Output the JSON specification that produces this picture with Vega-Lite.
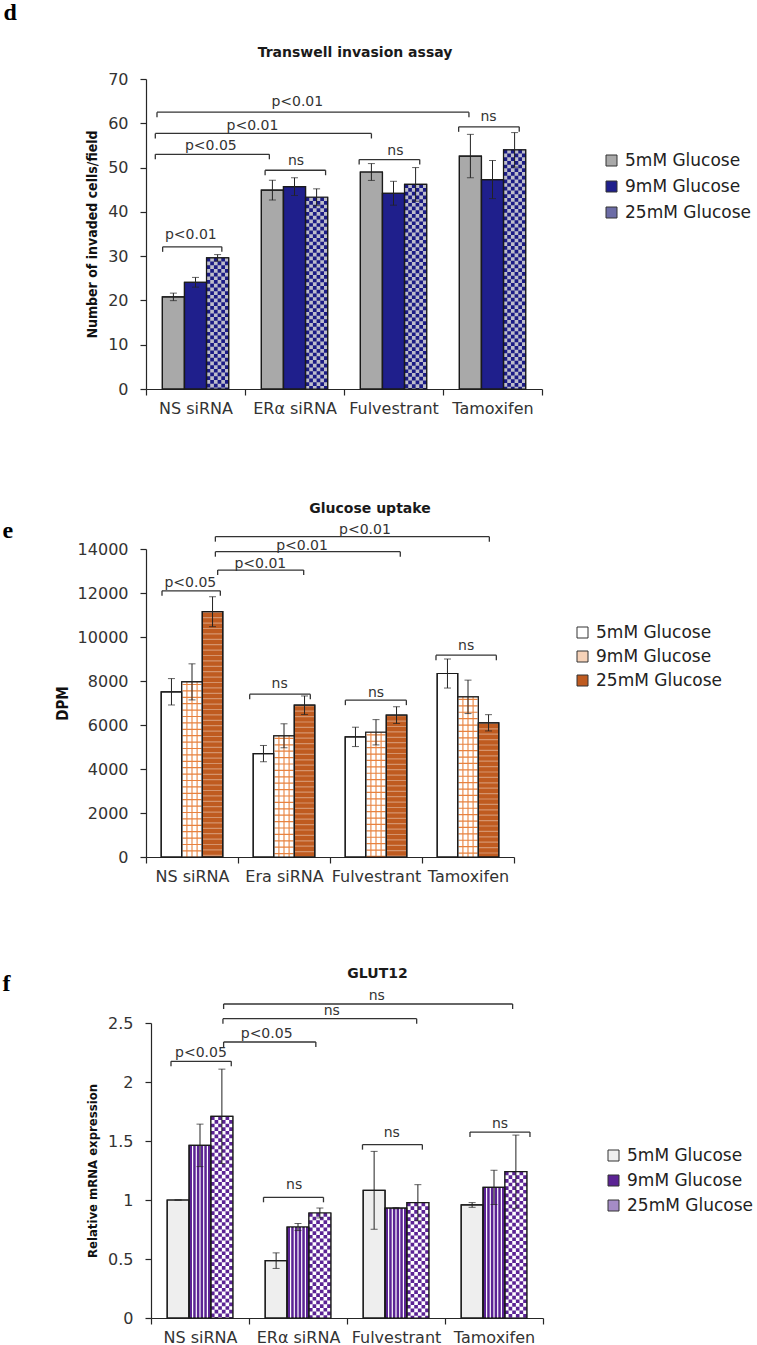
{
  "$schema": "https://vega.github.io/schema/vega-lite/v6.json",
  "padding": {"left": 2, "top": 0, "right": 0, "bottom": 0},
  "autosize": {"type": "pad"},
  "bounds": "flush",
  "spacing": 160,
  "config": {
    "view": {"stroke": null},
    "axis": {"domainColor": "#262626", "domainWidth": 1.2, "tickColor": "#262626", "tickWidth": 1.2, "tickSize": 6, "labelFont": "DejaVu Sans", "labelFontSize": 16, "labelColor": "#333333", "grid": false, "titleFont": "Liberation Sans Narrow, DejaVu Sans Condensed, Liberation Sans", "titleFontWeight": "bold", "titleColor": "#111111", "titleFontSize": 16},
    "axisY": {"labelPadding": 12, "titlePadding": 8},
    "axisX": {"labelAngle": 0, "labelPadding": 5, "tickBand": "extent"},
    "title": {"font": "DejaVu Sans", "fontSize": 14, "fontWeight": "bold", "color": "#1a1a1a", "anchor": "middle", "frame": "group"}
  },
  "datasets": {
    "d": [
      {"cat": "NS siRNA", "glucose": "5mM Glucose", "value": 20.8, "err": 0.85},
      {"cat": "NS siRNA", "glucose": "9mM Glucose", "value": 24.1, "err": 1.1},
      {"cat": "NS siRNA", "glucose": "25mM Glucose", "value": 29.6, "err": 0.75},
      {"cat": "ERα siRNA", "glucose": "5mM Glucose", "value": 44.9, "err": 2.25},
      {"cat": "ERα siRNA", "glucose": "9mM Glucose", "value": 45.7, "err": 2.0},
      {"cat": "ERα siRNA", "glucose": "25mM Glucose", "value": 43.3, "err": 1.9},
      {"cat": "Fulvestrant", "glucose": "5mM Glucose", "value": 49.0, "err": 1.9},
      {"cat": "Fulvestrant", "glucose": "9mM Glucose", "value": 44.2, "err": 2.7},
      {"cat": "Fulvestrant", "glucose": "25mM Glucose", "value": 46.2, "err": 3.8},
      {"cat": "Tamoxifen", "glucose": "5mM Glucose", "value": 52.6, "err": 4.9},
      {"cat": "Tamoxifen", "glucose": "9mM Glucose", "value": 47.3, "err": 4.3},
      {"cat": "Tamoxifen", "glucose": "25mM Glucose", "value": 54.0, "err": 3.9}
    ],
    "bd": [
      {"x1": 0.168, "x2": 0.766, "y": 32.1, "lx": 0.453, "ly": 34.7, "label": "p<0.01"},
      {"x1": 0.094, "x2": 1.246, "y": 53.0, "lx": 0.655, "ly": 54.9, "label": "p<0.05"},
      {"x1": 0.094, "x2": 2.277, "y": 57.7, "lx": 1.075, "ly": 59.4, "label": "p<0.01"},
      {"x1": 0.111, "x2": 3.262, "y": 62.5, "lx": 1.528, "ly": 64.9, "label": "p<0.01"},
      {"x1": 1.203, "x2": 1.814, "y": 49.4, "lx": 1.515, "ly": 51.5, "label": "ns"},
      {"x1": 2.153, "x2": 2.765, "y": 51.8, "lx": 2.519, "ly": 53.8, "label": "ns"},
      {"x1": 3.158, "x2": 3.77, "y": 59.2, "lx": 3.46, "ly": 61.5, "label": "ns"}
    ],
    "e": [
      {"cat": "NS siRNA", "glucose": "5mM Glucose", "value": 7510, "err": 600},
      {"cat": "NS siRNA", "glucose": "9mM Glucose", "value": 7960, "err": 820},
      {"cat": "NS siRNA", "glucose": "25mM Glucose", "value": 11150, "err": 680},
      {"cat": "Era siRNA", "glucose": "5mM Glucose", "value": 4700, "err": 370},
      {"cat": "Era siRNA", "glucose": "9mM Glucose", "value": 5510, "err": 545},
      {"cat": "Era siRNA", "glucose": "25mM Glucose", "value": 6900, "err": 420},
      {"cat": "Fulvestrant", "glucose": "5mM Glucose", "value": 5460, "err": 440},
      {"cat": "Fulvestrant", "glucose": "9mM Glucose", "value": 5670, "err": 575},
      {"cat": "Fulvestrant", "glucose": "25mM Glucose", "value": 6450, "err": 380},
      {"cat": "Tamoxifen", "glucose": "5mM Glucose", "value": 8340, "err": 660},
      {"cat": "Tamoxifen", "glucose": "9mM Glucose", "value": 7280, "err": 760},
      {"cat": "Tamoxifen", "glucose": "25mM Glucose", "value": 6100, "err": 370}
    ],
    "be": [
      {"x1": 0.174, "x2": 0.808, "y": 12100, "lx": 0.482, "ly": 12440, "label": "p<0.05"},
      {"x1": 0.779, "x2": 1.714, "y": 13044, "lx": 1.243, "ly": 13317, "label": "p<0.01"},
      {"x1": 0.754, "x2": 2.764, "y": 13878, "lx": 1.696, "ly": 14136, "label": "p<0.01"},
      {"x1": 0.754, "x2": 3.732, "y": 14561, "lx": 2.38, "ly": 14865, "label": "p<0.01"},
      {"x1": 1.127, "x2": 1.786, "y": 7402, "lx": 1.453, "ly": 7841, "label": "ns"},
      {"x1": 2.167, "x2": 2.83, "y": 7129, "lx": 2.5, "ly": 7463, "label": "ns"},
      {"x1": 3.152, "x2": 3.808, "y": 9176, "lx": 3.48, "ly": 9586, "label": "ns"}
    ],
    "f": [
      {"cat": "NS siRNA", "glucose": "5mM Glucose", "value": 1.0, "err": 0},
      {"cat": "NS siRNA", "glucose": "9mM Glucose", "value": 1.463, "err": 0.18},
      {"cat": "NS siRNA", "glucose": "25mM Glucose", "value": 1.709, "err": 0.4},
      {"cat": "ERα siRNA", "glucose": "5mM Glucose", "value": 0.486, "err": 0.066},
      {"cat": "ERα siRNA", "glucose": "9mM Glucose", "value": 0.771, "err": 0.03},
      {"cat": "ERα siRNA", "glucose": "25mM Glucose", "value": 0.89, "err": 0.042},
      {"cat": "Fulvestrant", "glucose": "5mM Glucose", "value": 1.082, "err": 0.33},
      {"cat": "Fulvestrant", "glucose": "9mM Glucose", "value": 0.931, "err": 0.005},
      {"cat": "Fulvestrant", "glucose": "25mM Glucose", "value": 0.977, "err": 0.153},
      {"cat": "Tamoxifen", "glucose": "5mM Glucose", "value": 0.958, "err": 0.02},
      {"cat": "Tamoxifen", "glucose": "9mM Glucose", "value": 1.107, "err": 0.145},
      {"cat": "Tamoxifen", "glucose": "25mM Glucose", "value": 1.24, "err": 0.31}
    ],
    "bf": [
      {"x1": 0.204, "x2": 0.819, "y": 2.175, "lx": 0.51, "ly": 2.246, "label": "p<0.05"},
      {"x1": 0.741, "x2": 1.682, "y": 2.339, "lx": 1.18, "ly": 2.41, "label": "p<0.05"},
      {"x1": 0.734, "x2": 2.711, "y": 2.537, "lx": 1.845, "ly": 2.599, "label": "ns"},
      {"x1": 0.741, "x2": 3.69, "y": 2.661, "lx": 2.304, "ly": 2.726, "label": "ns"},
      {"x1": 1.148, "x2": 1.76, "y": 1.023, "lx": 1.461, "ly": 1.13, "label": "ns"},
      {"x1": 2.158, "x2": 2.769, "y": 1.469, "lx": 2.457, "ly": 1.568, "label": "ns"},
      {"x1": 3.255, "x2": 3.867, "y": 1.576, "lx": 3.561, "ly": 1.644, "label": "ns"}
    ]
  },
  "resolve": {"scale": {"x": "independent", "y": "independent", "xOffset": "independent", "fill": "independent"}, "legend": {"fill": "independent"}},
  "vconcat": [
    {
      "width": 396, "height": 310,
      "title": {"text": "Transwell invasion assay", "dx": 11, "offset": -60},
      "resolve": {"scale": {"x": "independent"}, "axis": {"x": "independent", "y": "independent"}},
      "layer": [
        {
          "data": {"name": "d"},
          "encoding": {
            "x": {"field": "cat", "type": "nominal", "scale": {"domain": ["NS siRNA", "ERα siRNA", "Fulvestrant", "Tamoxifen"], "paddingInner": 0, "paddingOuter": 0}, "axis": {"title": null}},
            "y": {"field": "value", "type": "quantitative", "scale": {"domain": [0, 70], "nice": false}, "axis": {"values": [0, 10, 20, 30, 40, 50, 60, 70], "format": "d", "title": "Number of invaded cells/field", "titleFontSize": 14}}
          },
          "layer": [
            {"mark": {"type": "bar", "stroke": "#1a1a1a", "strokeWidth": 1.2},
             "encoding": {
               "xOffset": {"field": "glucose", "type": "nominal", "scale": {"domain": ["5mM Glucose", "9mM Glucose", "25mM Glucose"], "paddingInner": 0, "paddingOuter": 0.74}},
               "fill": {"field": "glucose", "type": "nominal", "scale": {"domain": ["5mM Glucose", "9mM Glucose", "25mM Glucose"], "range": ["#A9A9A9", "#1F1F8C", "#6C6CA6"]},
                 "legend": {"orient": "none", "legendX": 457, "legendY": 73, "title": null, "symbolType": "square", "symbolSize": 121, "symbolStrokeColor": "#333333", "symbolStrokeWidth": 1, "labelFont": "DejaVu Sans", "labelFontSize": 17, "labelColor": "#222222", "rowPadding": 8, "labelOffset": 5}}
             }},
            {"transform": [{"filter": "datum.glucose === '25mM Glucose'"}], "mark": {"type": "bar", "fill": "#BDBDCB"},
             "encoding": {"xOffset": {"field": "glucose", "type": "nominal", "scale": {"domain": ["5mM Glucose", "9mM Glucose", "25mM Glucose"], "paddingInner": 0, "paddingOuter": 0.74}}}},
            {"transform": [{"filter": "datum.glucose === '25mM Glucose'"}], "mark": {"type": "rule", "color": "#1B1B84", "strokeWidth": 3.7, "strokeDash": [3.7, 3.7], "strokeDashOffset": 0, "xOffset": 12.89}, "encoding": {"y2": {"datum": 0}}},
            {"transform": [{"filter": "datum.glucose === '25mM Glucose'"}], "mark": {"type": "rule", "color": "#1B1B84", "strokeWidth": 3.7, "strokeDash": [3.7, 3.7], "strokeDashOffset": 3.7, "xOffset": 16.57}, "encoding": {"y2": {"datum": 0}}},
            {"transform": [{"filter": "datum.glucose === '25mM Glucose'"}], "mark": {"type": "rule", "color": "#1B1B84", "strokeWidth": 3.7, "strokeDash": [3.7, 3.7], "strokeDashOffset": 0, "xOffset": 20.26}, "encoding": {"y2": {"datum": 0}}},
            {"transform": [{"filter": "datum.glucose === '25mM Glucose'"}], "mark": {"type": "rule", "color": "#1B1B84", "strokeWidth": 3.7, "strokeDash": [3.7, 3.7], "strokeDashOffset": 3.7, "xOffset": 23.94}, "encoding": {"y2": {"datum": 0}}},
            {"transform": [{"filter": "datum.glucose === '25mM Glucose'"}], "mark": {"type": "rule", "color": "#1B1B84", "strokeWidth": 3.7, "strokeDash": [3.7, 3.7], "strokeDashOffset": 0, "xOffset": 27.63}, "encoding": {"y2": {"datum": 0}}},
            {"transform": [{"filter": "datum.glucose === '25mM Glucose'"}], "mark": {"type": "rule", "color": "#1B1B84", "strokeWidth": 3.7, "strokeDash": [3.7, 3.7], "strokeDashOffset": 3.7, "xOffset": 31.31}, "encoding": {"y2": {"datum": 0}}},
            {"mark": {"type": "bar", "fill": "transparent", "stroke": "#1a1a1a", "strokeWidth": 1.2},
             "encoding": {"xOffset": {"field": "glucose", "type": "nominal", "scale": {"domain": ["5mM Glucose", "9mM Glucose", "25mM Glucose"], "paddingInner": 0, "paddingOuter": 0.74}}}},
            {"mark": {"type": "errorbar", "color": "#222222", "thickness": 1, "ticks": {"size": 7, "thickness": 1, "color": "#222222"}},
             "encoding": {"xOffset": {"field": "glucose", "type": "nominal", "scale": {"domain": ["5mM Glucose", "9mM Glucose", "25mM Glucose"], "paddingInner": 0, "paddingOuter": 0.74}}, "yError": {"field": "err"}}}
          ]
        },
        {
          "data": {"name": "bd"},
          "encoding": {
            "x": {"field": "x1", "type": "quantitative", "scale": {"domain": [0, 4], "nice": false, "zero": false},
              "axis": {"orient": "top", "domain": false, "ticks": false, "labels": false, "grid": false, "title": "d", "titleX": -143, "titleY": -60, "titleAlign": "left", "titleBaseline": "alphabetic", "titleAngle": 0, "titleFont": "Liberation Serif", "titleFontSize": 24, "titleFontWeight": "bold", "titleColor": "#000000"}},
            "y": {"field": "y", "type": "quantitative", "scale": {"domain": [0, 70], "nice": false}, "axis": null}
          },
          "layer": [
            {"mark": {"type": "rule", "color": "#333333", "strokeWidth": 1.3}, "encoding": {"x2": {"field": "x2"}}},
            {"mark": {"type": "rule", "color": "#333333", "strokeWidth": 1.3, "y2Offset": 5}, "encoding": {"y2": {"field": "y"}}},
            {"mark": {"type": "rule", "color": "#333333", "strokeWidth": 1.3, "y2Offset": 5},
             "encoding": {"x": {"field": "x2", "type": "quantitative",
               "axis": {"orient": "top", "domain": false, "ticks": false, "labels": false, "grid": false, "title": "d", "titleX": -143, "titleY": -60, "titleAlign": "left", "titleBaseline": "alphabetic", "titleAngle": 0, "titleFont": "Liberation Serif", "titleFontSize": 24, "titleFontWeight": "bold", "titleColor": "#000000"}}, "y2": {"field": "y"}}},
            {"mark": {"type": "text", "font": "DejaVu Sans", "fontSize": 14, "color": "#333333", "baseline": "middle", "align": "center"},
             "encoding": {"x": {"field": "lx", "type": "quantitative",
               "axis": {"orient": "top", "domain": false, "ticks": false, "labels": false, "grid": false, "title": "d", "titleX": -143, "titleY": -60, "titleAlign": "left", "titleBaseline": "alphabetic", "titleAngle": 0, "titleFont": "Liberation Serif", "titleFontSize": 24, "titleFontWeight": "bold", "titleColor": "#000000"}},
               "y": {"field": "ly", "type": "quantitative", "axis": null}, "text": {"field": "label"}}}
          ]
        }
      ]
    },
    {
      "bounds": "flush",
      "spacing": 166,
      "resolve": {"scale": {"x": "independent", "y": "independent", "xOffset": "independent", "fill": "independent"}, "legend": {"fill": "independent"}},
      "vconcat": [
        {
          "width": 368, "height": 308,
          "title": {"text": "Glucose uptake", "dx": 40, "offset": 2},
          "resolve": {"scale": {"x": "independent"}, "axis": {"x": "independent", "y": "independent"}},
          "layer": [
            {
              "data": {"name": "e"},
              "encoding": {
                "x": {"field": "cat", "type": "nominal", "scale": {"domain": ["NS siRNA", "Era siRNA", "Fulvestrant", "Tamoxifen"], "paddingInner": 0, "paddingOuter": 0}, "axis": {"title": null}},
                "y": {"field": "value", "type": "quantitative", "scale": {"domain": [0, 14000], "nice": false}, "axis": {"values": [0, 2000, 4000, 6000, 8000, 10000, 12000, 14000], "format": "d", "title": "DPM", "titleFontSize": 15, "titlePadding": 7}}
              },
              "layer": [
                {"mark": {"type": "bar", "stroke": "#1a1a1a", "strokeWidth": 1.2},
                 "encoding": {
                   "xOffset": {"field": "glucose", "type": "nominal", "scale": {"domain": ["5mM Glucose", "9mM Glucose", "25mM Glucose"], "paddingInner": 0, "paddingOuter": 0.74}},
                   "fill": {"field": "glucose", "type": "nominal", "scale": {"domain": ["5mM Glucose", "9mM Glucose", "25mM Glucose"], "range": ["#FFFFFF", "#F6D2B8", "#BF5B20"]},
                     "legend": {"orient": "none", "legendX": 428, "legendY": 75, "title": null, "symbolType": "square", "symbolSize": 121, "symbolStrokeColor": "#333333", "symbolStrokeWidth": 1, "labelFont": "DejaVu Sans", "labelFontSize": 17, "labelColor": "#222222", "rowPadding": 6, "labelOffset": 5}}
                 }},
                {"transform": [{"filter": "datum.glucose === '9mM Glucose'"}], "mark": {"type": "bar", "fill": "#FFFFFF"},
                 "encoding": {"xOffset": {"field": "glucose", "type": "nominal", "scale": {"domain": ["5mM Glucose", "9mM Glucose", "25mM Glucose"], "paddingInner": 0, "paddingOuter": 0.74}}}},
                {"transform": [{"filter": "datum.glucose === '9mM Glucose'"}], "mark": {"type": "rule", "color": "#E8823F", "strokeWidth": 19, "strokeDash": [1.2, 5.2], "strokeDashOffset": -2}, "encoding": {"y2": {"datum": 0}}},
                {"transform": [{"filter": "datum.glucose === '9mM Glucose'"}], "mark": {"type": "rule", "color": "#E8823F", "strokeWidth": 1.1, "xOffset": -5.1}, "encoding": {"y2": {"datum": 0}}},
                {"transform": [{"filter": "datum.glucose === '9mM Glucose'"}], "mark": {"type": "rule", "color": "#E8823F", "strokeWidth": 1.1}, "encoding": {"y2": {"datum": 0}}},
                {"transform": [{"filter": "datum.glucose === '9mM Glucose'"}], "mark": {"type": "rule", "color": "#E8823F", "strokeWidth": 1.1, "xOffset": 5.1}, "encoding": {"y2": {"datum": 0}}},
                {"transform": [{"filter": "datum.glucose === '25mM Glucose'"}], "mark": {"type": "rule", "color": "#FFFFFF", "opacity": 0.35, "strokeWidth": 19, "strokeDash": [1.2, 4.2], "xOffset": 20.54}, "encoding": {"y2": {"datum": 0}}},
                {"mark": {"type": "bar", "fill": "transparent", "stroke": "#1a1a1a", "strokeWidth": 1.2},
                 "encoding": {"xOffset": {"field": "glucose", "type": "nominal", "scale": {"domain": ["5mM Glucose", "9mM Glucose", "25mM Glucose"], "paddingInner": 0, "paddingOuter": 0.74}}}},
                {"mark": {"type": "errorbar", "color": "#222222", "thickness": 1, "ticks": {"size": 7, "thickness": 1, "color": "#222222"}},
                 "encoding": {"xOffset": {"field": "glucose", "type": "nominal", "scale": {"domain": ["5mM Glucose", "9mM Glucose", "25mM Glucose"], "paddingInner": 0, "paddingOuter": 0.74}}, "yError": {"field": "err"}}}
              ]
            },
            {
              "data": {"name": "be"},
              "encoding": {
                "x": {"field": "x1", "type": "quantitative", "scale": {"domain": [0, 4], "nice": false, "zero": false},
                  "axis": {"orient": "top", "domain": false, "ticks": false, "labels": false, "grid": false, "title": "e", "titleX": -144, "titleY": -12, "titleAlign": "left", "titleBaseline": "alphabetic", "titleAngle": 0, "titleFont": "Liberation Serif", "titleFontSize": 24, "titleFontWeight": "bold", "titleColor": "#000000"}},
                "y": {"field": "y", "type": "quantitative", "scale": {"domain": [0, 14000], "nice": false}, "axis": null}
              },
              "layer": [
                {"mark": {"type": "rule", "color": "#333333", "strokeWidth": 1.3}, "encoding": {"x2": {"field": "x2"}}},
                {"mark": {"type": "rule", "color": "#333333", "strokeWidth": 1.3, "y2Offset": 5}, "encoding": {"y2": {"field": "y"}}},
                {"mark": {"type": "rule", "color": "#333333", "strokeWidth": 1.3, "y2Offset": 5},
                 "encoding": {"x": {"field": "x2", "type": "quantitative",
                   "axis": {"orient": "top", "domain": false, "ticks": false, "labels": false, "grid": false, "title": "e", "titleX": -144, "titleY": -12, "titleAlign": "left", "titleBaseline": "alphabetic", "titleAngle": 0, "titleFont": "Liberation Serif", "titleFontSize": 24, "titleFontWeight": "bold", "titleColor": "#000000"}}, "y2": {"field": "y"}}},
                {"mark": {"type": "text", "font": "DejaVu Sans", "fontSize": 14, "color": "#333333", "baseline": "middle", "align": "center"},
                 "encoding": {"x": {"field": "lx", "type": "quantitative",
                   "axis": {"orient": "top", "domain": false, "ticks": false, "labels": false, "grid": false, "title": "e", "titleX": -144, "titleY": -12, "titleAlign": "left", "titleBaseline": "alphabetic", "titleAngle": 0, "titleFont": "Liberation Serif", "titleFontSize": 24, "titleFontWeight": "bold", "titleColor": "#000000"}},
                   "y": {"field": "ly", "type": "quantitative", "axis": null}, "text": {"field": "label"}}}
              ]
            }
          ]
        },
        {
          "width": 397, "height": 295,
          "title": {"text": "GLUT12", "dx": 33, "offset": -10},
          "resolve": {"scale": {"x": "independent"}, "axis": {"x": "independent", "y": "independent"}},
          "layer": [
            {
              "data": {"name": "f"},
              "encoding": {
                "x": {"field": "cat", "type": "nominal", "scale": {"domain": ["NS siRNA", "ERα siRNA", "Fulvestrant", "Tamoxifen"], "paddingInner": 0, "paddingOuter": 0, "range": [5, 397]}, "axis": {"title": null}},
                "y": {"field": "value", "type": "quantitative", "scale": {"domain": [0, 2.5], "nice": false}, "axis": {"values": [0, 0.5, 1, 1.5, 2, 2.5], "format": "~g", "title": "Relative mRNA expression", "titleFontSize": 13, "offset": -5}}
              },
              "layer": [
                {"mark": {"type": "bar", "stroke": "#1a1a1a", "strokeWidth": 1.2},
                 "encoding": {
                   "xOffset": {"field": "glucose", "type": "nominal", "scale": {"domain": ["5mM Glucose", "9mM Glucose", "25mM Glucose"], "paddingInner": 0, "paddingOuter": 0.74}},
                   "fill": {"field": "glucose", "type": "nominal", "scale": {"domain": ["5mM Glucose", "9mM Glucose", "25mM Glucose"], "range": ["#EEEEEE", "#5B2394", "#A58CC6"]},
                     "legend": {"orient": "none", "legendX": 459, "legendY": 124, "title": null, "symbolType": "square", "symbolSize": 121, "symbolStrokeColor": "#333333", "symbolStrokeWidth": 1, "labelFont": "DejaVu Sans", "labelFontSize": 17, "labelColor": "#222222", "rowPadding": 7, "labelOffset": 5}}
                 }},
                {"transform": [{"filter": "datum.glucose === '25mM Glucose'"}], "mark": {"type": "bar", "fill": "#FFFFFF"},
                 "encoding": {"xOffset": {"field": "glucose", "type": "nominal", "scale": {"domain": ["5mM Glucose", "9mM Glucose", "25mM Glucose"], "paddingInner": 0, "paddingOuter": 0.74}}}},
                {"transform": [{"filter": "datum.glucose === '25mM Glucose'"}], "mark": {"type": "rule", "color": "#5B2394", "strokeWidth": 3.65, "strokeDash": [3.65, 3.65], "strokeDashOffset": 0, "xOffset": 12.76}, "encoding": {"y2": {"datum": 0}}},
                {"transform": [{"filter": "datum.glucose === '25mM Glucose'"}], "mark": {"type": "rule", "color": "#5B2394", "strokeWidth": 3.65, "strokeDash": [3.65, 3.65], "strokeDashOffset": 3.65, "xOffset": 16.41}, "encoding": {"y2": {"datum": 0}}},
                {"transform": [{"filter": "datum.glucose === '25mM Glucose'"}], "mark": {"type": "rule", "color": "#5B2394", "strokeWidth": 3.65, "strokeDash": [3.65, 3.65], "strokeDashOffset": 0, "xOffset": 20.05}, "encoding": {"y2": {"datum": 0}}},
                {"transform": [{"filter": "datum.glucose === '25mM Glucose'"}], "mark": {"type": "rule", "color": "#5B2394", "strokeWidth": 3.65, "strokeDash": [3.65, 3.65], "strokeDashOffset": 3.65, "xOffset": 23.7}, "encoding": {"y2": {"datum": 0}}},
                {"transform": [{"filter": "datum.glucose === '25mM Glucose'"}], "mark": {"type": "rule", "color": "#5B2394", "strokeWidth": 3.65, "strokeDash": [3.65, 3.65], "strokeDashOffset": 0, "xOffset": 27.34}, "encoding": {"y2": {"datum": 0}}},
                {"transform": [{"filter": "datum.glucose === '25mM Glucose'"}], "mark": {"type": "rule", "color": "#5B2394", "strokeWidth": 3.65, "strokeDash": [3.65, 3.65], "strokeDashOffset": 3.65, "xOffset": 30.99}, "encoding": {"y2": {"datum": 0}}},
                {"transform": [{"filter": "datum.glucose === '9mM Glucose'"}], "mark": {"type": "rule", "color": "#FFFFFF", "strokeWidth": 1.2, "xOffset": -7.4}, "encoding": {"y2": {"datum": 0}}},
                {"transform": [{"filter": "datum.glucose === '9mM Glucose'"}], "mark": {"type": "rule", "color": "#FFFFFF", "strokeWidth": 1.2, "xOffset": -3.7}, "encoding": {"y2": {"datum": 0}}},
                {"transform": [{"filter": "datum.glucose === '9mM Glucose'"}], "mark": {"type": "rule", "color": "#FFFFFF", "strokeWidth": 1.2}, "encoding": {"y2": {"datum": 0}}},
                {"transform": [{"filter": "datum.glucose === '9mM Glucose'"}], "mark": {"type": "rule", "color": "#FFFFFF", "strokeWidth": 1.2, "xOffset": 3.7}, "encoding": {"y2": {"datum": 0}}},
                {"transform": [{"filter": "datum.glucose === '9mM Glucose'"}], "mark": {"type": "rule", "color": "#FFFFFF", "strokeWidth": 1.2, "xOffset": 7.4}, "encoding": {"y2": {"datum": 0}}},
                {"mark": {"type": "bar", "fill": "transparent", "stroke": "#1a1a1a", "strokeWidth": 1.2},
                 "encoding": {"xOffset": {"field": "glucose", "type": "nominal", "scale": {"domain": ["5mM Glucose", "9mM Glucose", "25mM Glucose"], "paddingInner": 0, "paddingOuter": 0.74}}}},
                {"mark": {"type": "errorbar", "color": "#222222", "thickness": 1, "ticks": {"size": 7, "thickness": 1, "color": "#222222"}},
                 "encoding": {"xOffset": {"field": "glucose", "type": "nominal", "scale": {"domain": ["5mM Glucose", "9mM Glucose", "25mM Glucose"], "paddingInner": 0, "paddingOuter": 0.74}}, "yError": {"field": "err"}}}
              ]
            },
            {
              "data": {"name": "bf"},
              "encoding": {
                "x": {"field": "x1", "type": "quantitative", "scale": {"domain": [0, 4], "nice": false, "zero": false, "range": [5, 397]},
                  "axis": {"orient": "top", "domain": false, "ticks": false, "labels": false, "grid": false, "title": "f", "titleX": -144, "titleY": -33, "titleAlign": "left", "titleBaseline": "alphabetic", "titleAngle": 0, "titleFont": "Liberation Serif", "titleFontSize": 24, "titleFontWeight": "bold", "titleColor": "#000000"}},
                "y": {"field": "y", "type": "quantitative", "scale": {"domain": [0, 2.5], "nice": false}, "axis": null}
              },
              "layer": [
                {"mark": {"type": "rule", "color": "#333333", "strokeWidth": 1.3}, "encoding": {"x2": {"field": "x2"}}},
                {"mark": {"type": "rule", "color": "#333333", "strokeWidth": 1.3, "y2Offset": 5}, "encoding": {"y2": {"field": "y"}}},
                {"mark": {"type": "rule", "color": "#333333", "strokeWidth": 1.3, "y2Offset": 5},
                 "encoding": {"x": {"field": "x2", "type": "quantitative",
                   "axis": {"orient": "top", "domain": false, "ticks": false, "labels": false, "grid": false, "title": "f", "titleX": -144, "titleY": -33, "titleAlign": "left", "titleBaseline": "alphabetic", "titleAngle": 0, "titleFont": "Liberation Serif", "titleFontSize": 24, "titleFontWeight": "bold", "titleColor": "#000000"}}, "y2": {"field": "y"}}},
                {"mark": {"type": "text", "font": "DejaVu Sans", "fontSize": 14, "color": "#333333", "baseline": "middle", "align": "center"},
                 "encoding": {"x": {"field": "lx", "type": "quantitative",
                   "axis": {"orient": "top", "domain": false, "ticks": false, "labels": false, "grid": false, "title": "f", "titleX": -144, "titleY": -33, "titleAlign": "left", "titleBaseline": "alphabetic", "titleAngle": 0, "titleFont": "Liberation Serif", "titleFontSize": 24, "titleFontWeight": "bold", "titleColor": "#000000"}},
                   "y": {"field": "ly", "type": "quantitative", "axis": null}, "text": {"field": "label"}}}
              ]
            }
          ]
        }
      ]
    }
  ]
}
